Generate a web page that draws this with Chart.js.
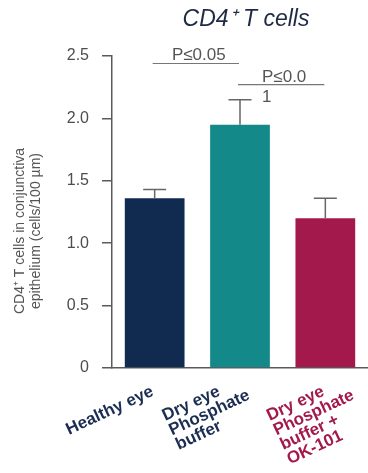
<!DOCTYPE html>
<html><head><meta charset="utf-8">
<script src="https://cdn.jsdelivr.net/npm/chart.js@4.4.1/dist/chart.umd.min.js"></script>
<style>html,body{margin:0;padding:0;background:#fff}#wrap{width:368px;height:473px;position:relative}</style>
</head><body><div id="wrap"><canvas id="c" width="368" height="473"></canvas></div>
<script>
// ---- data ----
const categories = [["Healthy eye"], ["Dry eye", "Phosphate", "buffer"], ["Dry eye", "Phosphate", "buffer +", "OK-101"]];
const meanValues = [1.36, 1.95, 1.20];
const errorValues = [0.07, 0.20, 0.16];
const yTickValues = [0, 0.5, 1.0, 1.5, 2.0, 2.5];
const yTickLabels = ["0", "0.5", "1.0", "1.5", "2.0", "2.5"];
const sigFrom = [0, 1];
const sigTo = [1, 2];
const sigLevel = [2.44, 2.27];
const sigText = [["P≤0.05"], ["P≤0.0", "1"]];
const chartTitle = "CD4⁺ T cells";
const yTitle = ["CD4⁺ T cells in conjunctiva", "epithelium (cells/100 µm)"];

// ---- styles ----
const barColors = ["#102b4f", "#13898a", "#a3194c"];
const labelColors = ["#1b2d52", "#1b2d52", "#a3194c"];
const labelNudgeX = [0, -19, 0];
const axisColor = "#5a5a5a";
const FONT = "'Liberation Sans', Arial, sans-serif";

const decorPlugin = {
  id: 'decor',
  afterDatasetsDraw(chart) {
    const ctx = chart.ctx;
    const x = chart.scales.x, y = chart.scales.y;
    // error bars (upper)
    ctx.save();
    ctx.strokeStyle = "#666";
    ctx.lineWidth = 1.5;
    meanValues.forEach((v, i) => {
      const px = x.getPixelForValue(i);
      const y0 = y.getPixelForValue(v);
      const y1 = y.getPixelForValue(v + errorValues[i]);
      ctx.beginPath();
      ctx.moveTo(px, y0); ctx.lineTo(px, y1);
      ctx.moveTo(px - 11.5, y1); ctx.lineTo(px + 11.5, y1);
      ctx.stroke();
    });
    // significance lines
    ctx.strokeStyle = "#777";
    ctx.lineWidth = 1.2;
    ctx.fillStyle = "#555";
    ctx.font = "17px " + FONT;
    ctx.textBaseline = "alphabetic";
    sigFrom.forEach((f, k) => {
      const xa = x.getPixelForValue(f) - 2, xb = x.getPixelForValue(sigTo[k]) - 1;
      const yy = y.getPixelForValue(sigLevel[k]);
      ctx.beginPath(); ctx.moveTo(xa, yy); ctx.lineTo(xb, yy); ctx.stroke();
      const lines = sigText[k];
      const w0 = ctx.measureText(lines[0]).width;
      const left = (xa + xb) / 2 - w0 / 2 + 3;
      lines.forEach((t, j) => {
        ctx.textAlign = "left";
        ctx.fillText(t, left, yy - 3 + j * 20);
      });
    });
    ctx.restore();

    // x category labels (rotated, left-aligned lines)
    ctx.save();
    ctx.font = "bold 17px " + FONT;
    const ang = 25 * Math.PI / 180;
    const lh = 16;
    categories.forEach((lines, i) => {
      const px = x.getPixelForValue(i);
      const w0 = ctx.measureText(lines[0]).width;
      const ex = px + labelNudgeX[i];
      const ey = y.bottom + 27;
      const ox = ex - w0 * Math.cos(ang);
      const oy = ey + w0 * Math.sin(ang);
      ctx.save();
      ctx.translate(ox, oy);
      ctx.rotate(-ang);
      ctx.fillStyle = labelColors[i];
      ctx.textAlign = "left";
      ctx.textBaseline = "alphabetic";
      lines.forEach((t, j) => ctx.fillText(t, 0, j * lh));
      ctx.restore();
    });
    ctx.restore();

    // y axis title
    ctx.save();
    ctx.fillStyle = "#555";
    ctx.font = "14px " + FONT;
    ctx.textAlign = "center";
    ctx.textBaseline = "middle";
    const cy = 231;
    [20, 36].forEach((cx, j) => {
      ctx.save();
      ctx.translate(cx, cy);
      ctx.rotate(-Math.PI / 2);
      ctx.fillText(yTitle[j], 0, 0);
      ctx.restore();
    });
    ctx.restore();

    // chart title
    ctx.save();
    ctx.fillStyle = "#1f2a44";
    ctx.font = "italic 23px " + FONT;
    ctx.textAlign = "center";
    ctx.textBaseline = "alphabetic";
    ctx.fillText(chartTitle, 246, 26);
    ctx.restore();
  }
};

new Chart(document.getElementById('c'), {
  type: 'bar',
  data: {
    labels: categories.map(c => c.join(' ')),
    datasets: [{
      data: meanValues,
      backgroundColor: barColors,
      borderWidth: 0,
      barPercentage: 0.7,
      categoryPercentage: 1.0
    }]
  },
  options: {
    responsive: false,
    animation: false,
    devicePixelRatio: 1,
    layout: { padding: { top: 56, right: -5, left: 0, bottom: 0 } },
    plugins: { legend: { display: false }, tooltip: { enabled: false }, title: { display: false } },
    scales: {
      x: {
        ticks: { display: false },
        grid: { display: true, drawOnChartArea: false, drawTicks: false },
        border: { display: true, color: axisColor, width: 1.5 },
        afterFit(s) { s.height = 105; }
      },
      y: {
        min: 0, max: 2.5,
        afterBuildTicks(s) { s.ticks = yTickValues.map(v => ({ value: v })); },
        ticks: {
          color: "#4d4d4d",
          font: { family: FONT, size: 16 },
          padding: 13,
          callback: (v, i) => yTickLabels[i]
        },
        grid: { display: true, drawOnChartArea: false, drawTicks: true, tickLength: 10, color: axisColor, lineWidth: 1.5 },
        border: { display: true, color: axisColor, width: 1.5 },
        afterFit(s) { s.width = 112; }
      }
    }
  },
  plugins: [decorPlugin]
});
</script>
</body></html>
